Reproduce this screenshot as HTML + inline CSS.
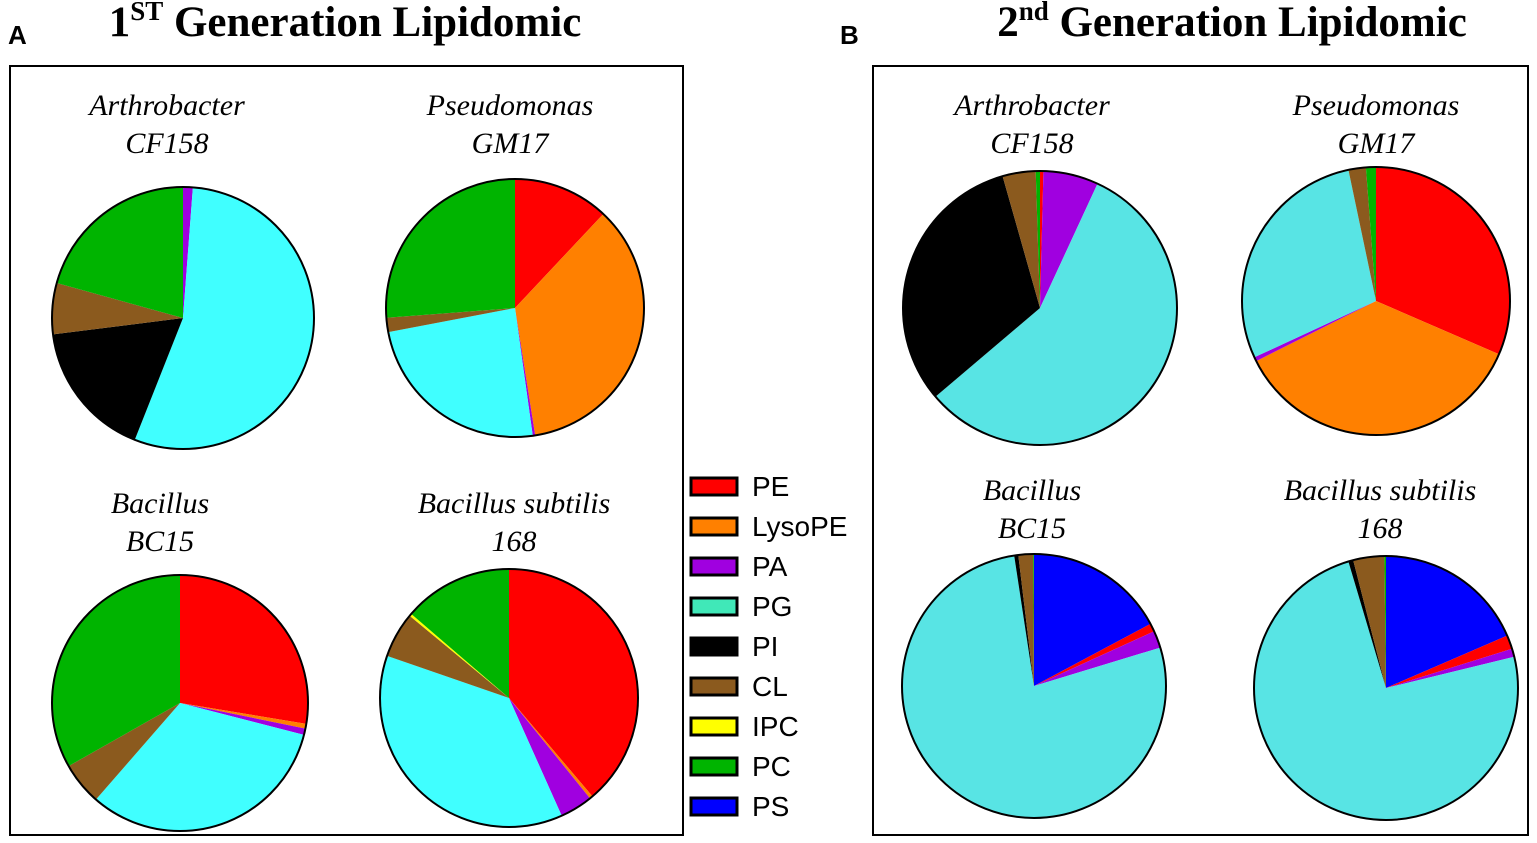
<!DOCTYPE html>
<html><head><meta charset="utf-8"><style>
html,body{margin:0;padding:0;background:#fff}
svg{display:block}
.t{font-family:"Liberation Serif",serif;font-weight:bold;font-size:43px}
.l{font-family:"Liberation Serif",serif;font-style:italic;font-size:30px}
.lg{font-family:"Liberation Sans",sans-serif;font-size:28px}
</style></head><body>
<svg id="c" width="1537" height="843" xmlns="http://www.w3.org/2000/svg">
<text x="8" y="44" font-family="Liberation Sans,sans-serif" font-weight="bold" font-size="26">A</text>
<text x="840" y="44" font-family="Liberation Sans,sans-serif" font-weight="bold" font-size="26">B</text>
<text class="t" x="345" y="36" text-anchor="middle">1<tspan font-size="27" dy="-16">ST</tspan><tspan dy="16"> Generation Lipidomic</tspan></text>
<text class="t" x="1232" y="36" text-anchor="middle">2<tspan font-size="27" dy="-16">nd</tspan><tspan dy="16"> Generation Lipidomic</tspan></text>
<rect x="10" y="66" width="673" height="769" fill="none" stroke="#000" stroke-width="2"/>
<rect x="873" y="66" width="655" height="769" fill="none" stroke="#000" stroke-width="2"/>
<g id="pies"></g>
<g id="legend"></g>
</svg>
<script>
const legendNames = ["PE","LysoPE","PA","PG","PI","CL","IPC","PC","PS"];
const pieTitles = [["Arthrobacter","CF158"],["Pseudomonas","GM17"],["Bacillus","BC15"],["Bacillus subtilis","168"],["Arthrobacter","CF158"],["Pseudomonas","GM17"],["Bacillus","BC15"],["Bacillus subtilis","168"]];
// slice order clockwise from 12 o'clock and values (%)
const orderA = ["PE","LysoPE","PA","PG","PI","CL","IPC","PC","PS"];
const orderB = ["PS","PE","LysoPE","PA","PG","PI","CL","IPC","PC"];
const valsA1 = [0,0,1.2,54.8,17,6.3,0,20.7,0];
const valsA2 = [12,35.5,0.3,24.2,0,1.8,0,26.2,0];
const valsA3 = [27.6,0.6,0.8,32.4,0,5.4,0,33.2,0];
const valsA4 = [38.8,0.4,4.1,37,0,5.7,0.3,13.7,0];
const valsB1 = [0.4,0,6.5,56.9,31.8,3.9,0,0.5,0];
const valsB2 = [31.5,36.1,0.5,28.6,0,2.1,0,1.2,0];
const valsB3 = [17.2,1,0,2.1,77.3,0.5,1.8,0,0.1];
const valsB4 = [18.5,1.7,0,1,74.2,0.6,3.8,0,0.2];
const pieData = [valsA1,valsA2,valsA3,valsA4,valsB1,valsB2,valsB3,valsB4];
const pieOrders = [orderA,orderA,orderA,orderA,orderA,orderA,orderB,orderB];
const geo = [[183,318,131,167,105],[515,308,129,510,105],[180,703,128,160,503],[509,698,129,514,503],[1040,308,137,1032,105],[1376,301,134,1376,105],[1034,686,132,1032,490],[1386,688,132,1380,490]];
const colA = {PE:"#ff0000",LysoPE:"#ff8000",PA:"#a000e0",PG:"#40ffff",PI:"#000000",CL:"#8b5a1e",IPC:"#ffff00",PC:"#00b400",PS:"#0000ff"};
const colB = Object.assign({},colA,{PG:"#58e4e4"});
const legCol = Object.assign({},colA,{PG:"#40e8b8"});
const NS="http://www.w3.org/2000/svg";
const pies=document.getElementById('pies');
function pt(cx,cy,r,f){const a=f*2*Math.PI;return [cx+r*Math.sin(a),cy-r*Math.cos(a)];}
pieData.forEach((vals,i)=>{
  const [cx,cy,r,tx,ty]=geo[i];const cols=i<4?colA:colB;
  const g=document.createElementNS(NS,'g');
  
  
  const tot=vals.reduce((s,v)=>s+v,0);let acc=0;
  vals.forEach((v,j)=>{
    if(v<=0)return;
    const f0=acc/tot,f1=(acc+v)/tot;acc+=v;
    const p0=pt(cx,cy,r,f0),p1=pt(cx,cy,r,f1);
    const p=document.createElementNS(NS,'path');
    p.setAttribute('d',`M${cx},${cy}L${p0[0]},${p0[1]}A${r},${r} 0 ${f1-f0>0.5?1:0} 1 ${p1[0]},${p1[1]}Z`);
    p.setAttribute('fill',cols[pieOrders[i][j]]);
    
    
    g.appendChild(p);
  });
  const c=document.createElementNS(NS,'circle');
  c.setAttribute('cx',cx);c.setAttribute('cy',cy);c.setAttribute('r',r);
  c.setAttribute('fill','none');c.setAttribute('stroke','#000');c.setAttribute('stroke-width','2');
  
  
  g.appendChild(c);
  pieTitles[i].forEach((s,k)=>{
    const t=document.createElementNS(NS,'text');
    t.setAttribute('x',tx);t.setAttribute('y',ty+k*38+10);t.setAttribute('class','l');t.setAttribute('text-anchor','middle');
    t.textContent=s;
    
    
    g.appendChild(t);
  });
  pies.appendChild(g);
});
const leg=document.getElementById('legend');
legendNames.forEach((n,i)=>{
  const y=478+i*40;
  const r=document.createElementNS(NS,'rect');
  r.setAttribute('x',691);r.setAttribute('y',y);r.setAttribute('width',46);r.setAttribute('height',17);
  r.setAttribute('fill',legCol[n]);r.setAttribute('stroke','#000');r.setAttribute('stroke-width','3');
  
  
  leg.appendChild(r);
  const t=document.createElementNS(NS,'text');
  t.setAttribute('x',752);t.setAttribute('y',y+18);t.setAttribute('class','lg');t.textContent=n;
  
  
  leg.appendChild(t);
});
</script>
</body></html>
